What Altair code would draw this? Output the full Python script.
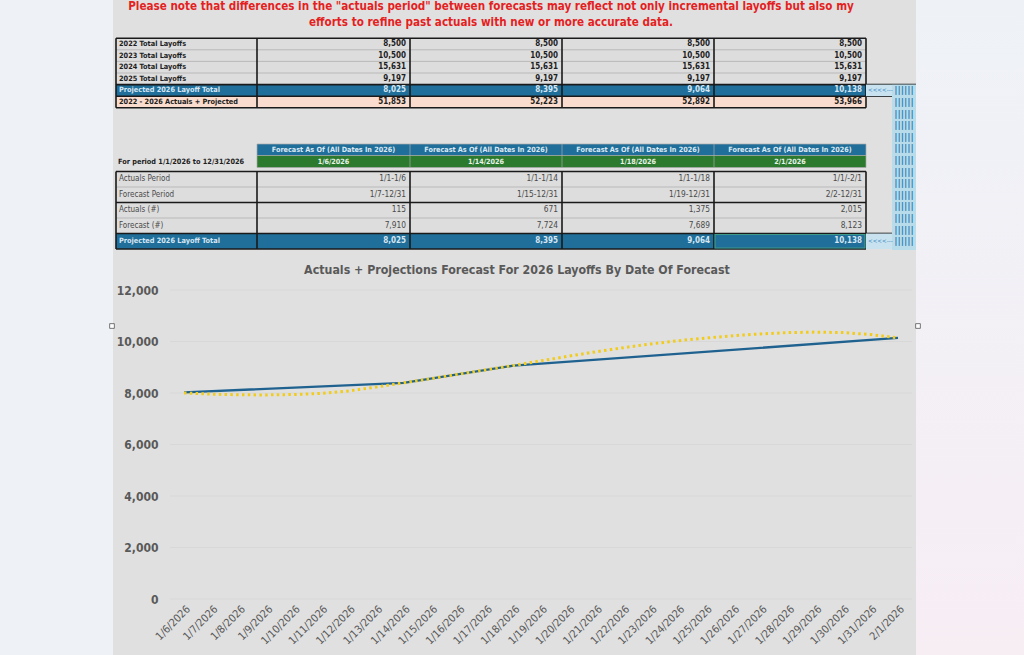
import altair as alt
import pandas as pd

W, H = 1024, 655

# ---------------- data ----------------
note_lines = [
    'Please note that differences in the "actuals period" between forecasts may reflect not only incremental layoffs but also my',
    "efforts to refine past actuals with new or more accurate data.",
]
hist_labels = ["2022 Total Layoffs", "2023 Total Layoffs", "2024 Total Layoffs", "2025 Total Layoffs"]
hist_values = [8500, 10500, 15631, 9197]
forecast_dates = ["1/6/2026", "1/14/2026", "1/18/2026", "2/1/2026"]
projected_total = [8025, 8395, 9064, 10138]
combined_total = [51853, 52223, 52892, 53966]
actuals_period = ["1/1-1/6", "1/1-1/14", "1/1-1/18", "1/1/-2/1"]
forecast_period = ["1/7-12/31", "1/15-12/31", "1/19-12/31", "2/2-12/31"]
actuals_n = [115, 671, 1375, 2015]
forecast_n = [7910, 7724, 7689, 8123]
header_text = "Forecast As Of (All Dates In 2026)"
period_text = "For period 1/1/2026 to 12/31/2026"
chart_title = "Actuals + Projections Forecast For 2026 Layoffs By Date Of Forecast"
chart_dates = ["1/6/2026", "1/7/2026", "1/8/2026", "1/9/2026", "1/10/2026", "1/11/2026",
               "1/12/2026", "1/13/2026", "1/14/2026", "1/15/2026", "1/16/2026", "1/17/2026",
               "1/18/2026", "1/19/2026", "1/20/2026", "1/21/2026", "1/22/2026", "1/23/2026",
               "1/24/2026", "1/25/2026", "1/26/2026", "1/27/2026", "1/28/2026", "1/29/2026",
               "1/30/2026", "1/31/2026", "2/1/2026"]
trend_values = [8000, 7955, 7930, 7925, 7940, 7985, 8080, 8230, 8395, 8560, 8730, 8900,
                9070, 9250, 9430, 9600, 9760, 9905, 10030, 10135, 10225, 10295, 10345,
                10365, 10345, 10270, 10140]
y_ticks = [0, 2000, 4000, 6000, 8000, 10000, 12000]

# ---------------- layout / style ----------------
NARROW = "Liberation Sans Narrow, Arial Narrow, DejaVu Sans Condensed, sans-serif"
PANEL = "#e0e0e0"
CELL = "#dddddd"
BLUE = "#1f6f9a"
GREEN = "#2b7a2e"
PEACH = "#f9dccd"
PROJ_TXT = "#d6e6f3"
COLS = [116, 257, 410, 562, 714, 866]
T1_EDGES = [38.2, 49.8, 61.4, 73.0, 84.6, 96.2, 107.8]
T2_HEAD = [144.0, 155.5, 167.5]
T2_EDGES = [171.5, 187.0, 202.5, 218.0, 233.5, 249.0]
PX = alt.Scale(domain=[0, W], range=[0, W], nice=False, zero=False)
PY = alt.Scale(domain=[0, H], range=[0, H], nice=False, zero=False)

one = pd.DataFrame({"a": [0]})


def fmt(v):
    return f"{v:,}"


# ---- cells ----
cells = []
texts = []  # x, y, text, color, style


def add_row(y0, y1, label, vals, fill, lab_style, val_style, color):
    cells.append(dict(x0=COLS[0], x1=COLS[1], y0=y0, y1=y1, fill=fill))
    if label:
        texts.append(dict(x=COLS[0] + 3, y=(y0 + y1) / 2, text=label, color=color, style=lab_style))
    for j, v in enumerate(vals):
        cells.append(dict(x0=COLS[j + 1], x1=COLS[j + 2], y0=y0, y1=y1, fill=fill))
        texts.append(dict(x=COLS[j + 2] - 4, y=(y0 + y1) / 2, text=v, color=color, style=val_style))


for i, (lab, v) in enumerate(zip(hist_labels, hist_values)):
    add_row(T1_EDGES[i], T1_EDGES[i + 1], lab, [fmt(v)] * 4, CELL, "lb", "rb", "#1e1e1e")
add_row(T1_EDGES[4], T1_EDGES[5], "Projected 2026 Layoff Total", [fmt(v) for v in projected_total], BLUE, "lb", "rb", PROJ_TXT)
add_row(T1_EDGES[5], T1_EDGES[6], "2022 - 2026 Actuals + Projected", [fmt(v) for v in combined_total], PEACH, "lb", "rb", "#1e1e1e")

# table 2 header
for j, d in enumerate(forecast_dates):
    cells.append(dict(x0=COLS[j + 1], x1=COLS[j + 2], y0=T2_HEAD[0], y1=T2_HEAD[1], fill=BLUE))
    cells.append(dict(x0=COLS[j + 1], x1=COLS[j + 2], y0=T2_HEAD[1], y1=T2_HEAD[2], fill=GREEN))
    cx = (COLS[j + 1] + COLS[j + 2]) / 2
    texts.append(dict(x=cx, y=(T2_HEAD[0] + T2_HEAD[1]) / 2, text=header_text, color="#dce8f2", style="cb"))
    texts.append(dict(x=cx, y=(T2_HEAD[1] + T2_HEAD[2]) / 2, text=d, color="#e8f3e8", style="cb"))
texts.append(dict(x=COLS[0] + 2, y=162, text=period_text, color="#1e1e1e", style="lb"))

body = [("Actuals Period", actuals_period), ("Forecast Period", forecast_period),
        ("Actuals (#)", [fmt(v) for v in actuals_n]), ("Forecast (#)", [fmt(v) for v in forecast_n])]
for i, (lab, vals) in enumerate(body):
    add_row(T2_EDGES[i], T2_EDGES[i + 1], lab, vals, CELL, "l", "r", "#4a4a4a")
add_row(T2_EDGES[4], T2_EDGES[5], "Projected 2026 Layoff Total", [fmt(v) for v in projected_total], BLUE, "lb", "rb", PROJ_TXT)

cells_df = pd.DataFrame(cells)
texts_df = pd.DataFrame(texts)

# ---- borders ----
thin, thick = [], []
for y in [T1_EDGES[1], T1_EDGES[2], T1_EDGES[3]]:
    thin.append(dict(x0=COLS[0], x1=COLS[5], y0=y, y1=y))
for y in [T1_EDGES[0], T1_EDGES[4], T1_EDGES[5], T1_EDGES[6]]:
    thick.append(dict(x0=COLS[0], x1=COLS[5], y0=y, y1=y))
for x in COLS:
    thick.append(dict(x0=x, x1=x, y0=T1_EDGES[0], y1=T1_EDGES[6]))
for y in T2_HEAD:
    thin.append(dict(x0=COLS[1], x1=COLS[5], y0=y, y1=y))
for x in COLS[1:]:
    thin.append(dict(x0=x, x1=x, y0=T2_HEAD[0], y1=T2_HEAD[2]))
for y in [T2_EDGES[1], T2_EDGES[3]]:
    thin.append(dict(x0=COLS[0], x1=COLS[5], y0=y, y1=y))
for y in [T2_EDGES[0], T2_EDGES[2], T2_EDGES[4], T2_EDGES[5]]:
    thick.append(dict(x0=COLS[0], x1=COLS[5], y0=y, y1=y))
for x in COLS:
    thick.append(dict(x0=x, x1=x, y0=T2_EDGES[0], y1=T2_EDGES[5]))
# connectors to the right-hand annotation
thick.append(dict(x0=COLS[5], x1=916, y0=T1_EDGES[4], y1=T1_EDGES[4]))
thick.append(dict(x0=COLS[5], x1=892, y0=T1_EDGES[5], y1=T1_EDGES[5]))
thick.append(dict(x0=COLS[5], x1=892, y0=T2_EDGES[4], y1=T2_EDGES[4]))
thin_df = pd.DataFrame(thin)
thick_df = pd.DataFrame(thick)


def rules(df, color, width):
    return alt.Chart(df).mark_rule(color=color, strokeWidth=width).encode(
        x=alt.X("x0:Q", scale=PX, axis=None), x2="x1:Q",
        y=alt.Y("y0:Q", scale=PY, axis=None), y2="y1:Q")


def text_layer(df, align, weight, size, font=NARROW):
    return alt.Chart(df).mark_text(align=align, baseline="middle", fontWeight=weight,
                                   fontSize=size, font=font).encode(
        x=alt.X("x:Q", scale=PX, axis=None), y=alt.Y("y:Q", scale=PY, axis=None),
        text="text:N", color=alt.Color("color:N", scale=None))


def vrect(x0, x1, y0, y1, fill, **kw):
    return alt.Chart(one).mark_rect(fill=fill, **kw).encode(
        x=alt.value(x0), x2=alt.value(x1), y=alt.value(y0), y2=alt.value(y1))


# ---- background pieces ----
bg_right = alt.Chart(one).mark_rect(
    fill=alt.Gradient(gradient="linear", x1=0, y1=0, x2=0, y2=1,
                      stops=[alt.GradientStop(offset=0, color="#eef2f7"),
                             alt.GradientStop(offset=1, color="#f7eef4")])).encode(
    x=alt.value(916), x2=alt.value(W), y=alt.value(0), y2=alt.value(H))
panel = vrect(113, 916, 0, H, PANEL)

cells_layer = alt.Chart(cells_df).mark_rect().encode(
    x=alt.X("x0:Q", scale=PX, axis=None), x2="x1:Q",
    y=alt.Y("y0:Q", scale=PY, axis=None), y2="y1:Q",
    color=alt.Color("fill:N", scale=None))

sel_cell = vrect(COLS[4] + 1, COLS[5] - 1, T2_EDGES[4] + 1, T2_EDGES[5] - 1, "none",
                 stroke="#3f9a8a", strokeWidth=1.2)

# right-hand annotation
band = vrect(892, 916, T1_EDGES[4], 250, "#b9dcea")
arrow_box1 = vrect(COLS[5], 892, T1_EDGES[4], T1_EDGES[5], "#c8e3ef")
arrow_box2 = vrect(COLS[5], 892, T2_EDGES[4], T2_EDGES[5], "#c8e3ef")
bars_y = [90.4, 102, 113.6, 125.2, 136.8, 148.4, 160, 171.6, 183.2, 194.8, 206.4, 218, 229.6, 241.2]
bars_df = pd.DataFrame({"x": [904] * len(bars_y), "y": bars_y, "text": ["||||||"] * len(bars_y),
                        "color": ["#2f7fb5"] * len(bars_y)})
bars = text_layer(bars_df, "center", "bold", 9, "DejaVu Sans")
arrows_df = pd.DataFrame({"x": [COLS[5] + 2] * 2,
                          "y": [(T1_EDGES[4] + T1_EDGES[5]) / 2, (T2_EDGES[4] + T2_EDGES[5]) / 2],
                          "text": ["<<<<---"] * 2, "color": ["#3a88c2"] * 2})
arrows = text_layer(arrows_df, "left", "normal", 6.2)

# note + title
note_df = pd.DataFrame({"x": [491, 491], "y": [7, 23], "text": note_lines, "color": ["#e41f1f"] * 2})
note = text_layer(note_df, "center", "bold", 11.6)
title_df = pd.DataFrame({"x": [517], "y": [270], "text": [chart_title], "color": ["#595959"]})
title = text_layer(title_df, "center", "bold", 12.3)

handles = alt.Chart(pd.DataFrame({"x": [112, 918], "y": [326, 326]})).mark_square(
    size=22, fill="#ffffff", stroke="#555555", strokeWidth=0.8, opacity=1).encode(
    x=alt.X("x:Q", scale=PX, axis=None), y=alt.Y("y:Q", scale=PY, axis=None))

# ---------------- line chart ----------------
XS = alt.Scale(type="point", domain=chart_dates, range=[184, 898], padding=0)
YS = alt.Scale(domain=[0, 12000], range=[599, 290], nice=False, zero=True)

x_axis = alt.Axis(orient="bottom", offset=-55, labelAngle=-45, labelFont=NARROW, labelFontSize=10.8,
                  labelColor="#595959", labelPadding=3, ticks=False, domain=False, grid=False,
                  labelOverlap=False, title=None, zindex=2)
y_axis = alt.Axis(orient="left", offset=-158, values=y_ticks,
                  labelExpr="format(datum.value, ',.0f')", labelFont=NARROW,
                  labelFontSize=12, labelFontWeight="bold", labelColor="#595959", tickSize=0,
                  ticks=False, labelPadding=0, domain=False, grid=False, title=None, zindex=2)

grid_df = pd.DataFrame({"v": y_ticks})
grid = alt.Chart(grid_df).mark_rule(color="#d8d8d8", strokeWidth=1).encode(
    y=alt.Y("v:Q", scale=YS, axis=y_axis), x=alt.value(170), x2=alt.value(912))

blue_df = pd.DataFrame({"date": forecast_dates, "value": projected_total, "idx": range(len(forecast_dates))})
blue = alt.Chart(blue_df).mark_line(color="#1f6290", strokeWidth=2.3).encode(
    x=alt.X("date:O", scale=XS, axis=x_axis), y=alt.Y("value:Q", scale=YS, axis=y_axis),
    order="idx:Q")

trend_df = pd.DataFrame({"date": chart_dates, "value": trend_values, "idx": range(len(chart_dates))})
trend = alt.Chart(trend_df).mark_line(color="#f2cc1c", strokeWidth=3, strokeDash=[2.5, 3.3]).encode(
    x=alt.X("date:O", scale=XS, axis=x_axis), y=alt.Y("value:Q", scale=YS, axis=y_axis),
    order="idx:Q")

line_chart = alt.layer(grid, blue, trend)

chart = alt.layer(
    bg_right, panel,
    cells_layer,
    rules(thin_df, "#a9a9a9", 0.7),
    rules(thick_df, "#1a1a1a", 1.6),
    sel_cell, band, arrow_box1, arrow_box2, bars, arrows,
    text_layer(texts_df[texts_df["style"] == "lb"], "left", "bold", 7.3),
    text_layer(texts_df[texts_df["style"] == "rb"], "right", "bold", 8),
    text_layer(texts_df[texts_df["style"] == "l"], "left", "normal", 8),
    text_layer(texts_df[texts_df["style"] == "r"], "right", "normal", 8.3),
    text_layer(texts_df[texts_df["style"] == "cb"], "center", "bold", 7.2),
    note, title, handles,
    line_chart,
).resolve_scale(x="independent", y="independent").properties(
    width=W, height=H, padding=0, background="#eef2f7",
    autosize=alt.AutoSizeParams(type="none"),
).configure_view(stroke=None)

chart.save("out.html", embed_options={"renderer": "svg", "actions": False})
